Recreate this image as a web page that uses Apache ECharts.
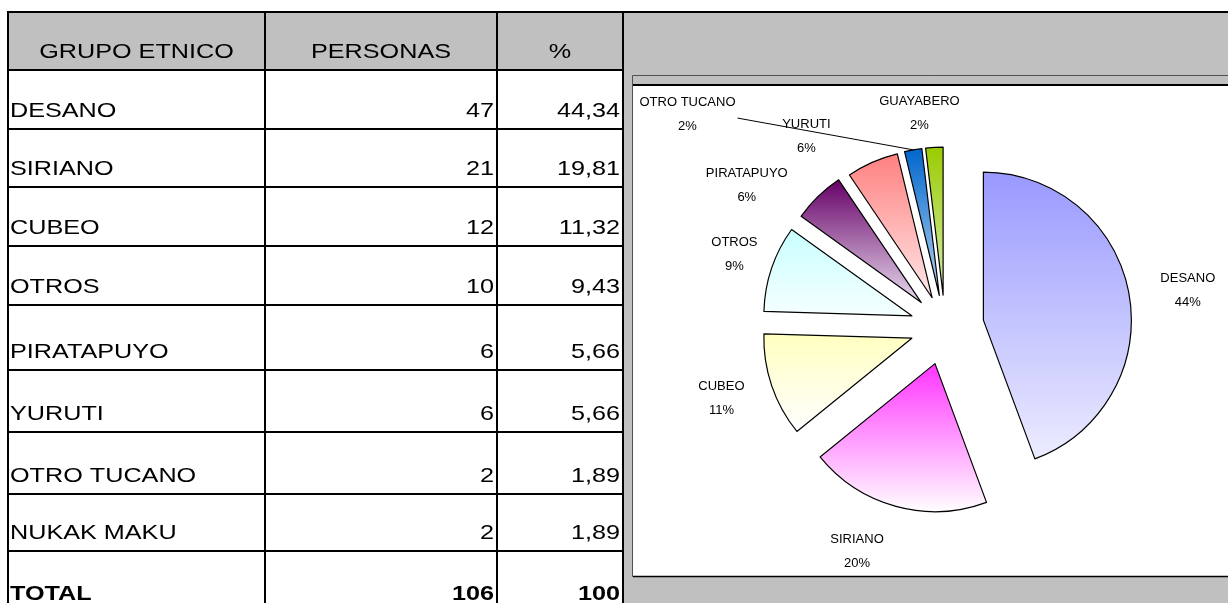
<!DOCTYPE html>
<html>
<head>
<meta charset="utf-8">
<script src="https://cdn.jsdelivr.net/npm/echarts@6/dist/echarts.min.js"></script>
<style>
  html, body { margin: 0; padding: 0; background: #fff; }
  #chart { width: 1228px; height: 603px; }
</style>
</head>
<body>
<div id="chart"></div>
<script>
// datos de la tabla
const headers = ['GRUPO ETNICO', 'PERSONAS', '%']
const groups = ['DESANO', 'SIRIANO', 'CUBEO', 'OTROS', 'PIRATAPUYO', 'YURUTI', 'OTRO TUCANO', 'NUKAK MAKU']
const personas = [47, 21, 12, 10, 6, 6, 2, 2]
const percents = ['44,34', '19,81', '11,32', '9,43', '5,66', '5,66', '1,89', '1,89']
const totalRow = ['TOTAL', '106', '100']

// datos de la torta
const pieNames = ['DESANO', 'SIRIANO', 'CUBEO', 'OTROS', 'PIRATAPUYO', 'YURUTI', 'OTRO TUCANO', 'GUAYABERO']
const pieValues = [47, 21, 12, 10, 6, 6, 2, 2]

// estilos
const FONT = '"Liberation Sans", Arial, sans-serif'
const colX = [8, 265, 497, 623]
const rowY = [12, 70, 129, 187, 246, 305, 370, 432, 494, 551, 612]
const sliceTop = ['#9999ff', '#ff33ff', '#ffffc0', '#c8ffff', '#660066', '#ff8080', '#0066cc', '#99cc00']
const sliceBottom = ['#ececff', '#ffffff', '#ffffff', '#f6ffff', '#e8dcef', '#ffe8e8', '#b8d4f0', '#d8ecb0']
const explode = [39, 38, 35, 35, 34, 32, 32, 32]
const labelShift = [[29, -1], [-20, 31], [-21, 8], [-8, -9], [-46, 0], [-45, -12], [-218, -21], [1, -19]]
const leaderIndex = 6 // solo OTRO TUCANO lleva linea guia

const chart = echarts.init(document.getElementById('chart'))

const elements = []
// fondo gris del panel del grafico
elements.push({ type: 'rect', z: 0, shape: { x: colX[3], y: rowY[0], width: 700, height: 700 }, style: { fill: '#c0c0c0' } })
// encabezado gris
elements.push({ type: 'rect', z: 0, shape: { x: colX[0], y: rowY[0], width: colX[3] - colX[0], height: rowY[1] - rowY[0] }, style: { fill: '#c0c0c0' } })
// marco del grafico
elements.push({ type: 'rect', z: 1, shape: { x: 632.5, y: 75.5, width: 700, height: 501 }, style: { fill: '#c0c0c0', stroke: '#505050', lineWidth: 1 } })
elements.push({ type: 'rect', z: 1, shape: { x: 633, y: 85, width: 700, height: 491 }, style: { fill: '#fff' } })
elements.push({ type: 'line', z: 2, shape: { x1: 633, y1: 85, x2: 1228, y2: 85 }, style: { stroke: '#000', lineWidth: 2 } })
elements.push({ type: 'line', z: 2, shape: { x1: 633, y1: 576.5, x2: 1228, y2: 576.5 }, style: { stroke: '#000', lineWidth: 1.5 } })

// lineas de la tabla
rowY.forEach((y, i) => {
  elements.push({
    type: 'line', z: 3,
    shape: { x1: colX[0] - 1, y1: y, x2: i === 0 ? 1228 : colX[3] + 1, y2: y },
    style: { stroke: '#000', lineWidth: 2 }
  })
})
colX.forEach(x => {
  elements.push({ type: 'line', z: 3, shape: { x1: x, y1: rowY[0], x2: x, y2: 603 }, style: { stroke: '#000', lineWidth: 2 } })
})

function cellText(text, col, row, bold) {
  const yMid = rowY[row + 1] - 18
  let x, align
  if (row === 0) {
    x = (colX[col] + colX[col + 1]) / 2
    align = 'center'
  } else if (col === 0) {
    x = colX[0] + 2
    align = 'left'
  } else {
    x = colX[col + 1] - 3
    align = 'right'
  }
  elements.push({
    type: 'text', z: 4, x, y: yMid, scaleX: 1.2,
    style: {
      text, fill: '#000', font: (bold ? 'bold ' : '') + '21px ' + FONT,
      align, verticalAlign: 'middle', textAlign: align, textVerticalAlign: 'middle'
    }
  })
}

headers.forEach((h, c) => cellText(h, c, 0))
groups.forEach((g, r) => {
  cellText(g, 0, r + 1)
  cellText(String(personas[r]), 1, r + 1)
  cellText(percents[r], 2, r + 1)
})
totalRow.forEach((t, c) => cellText(t, c, groups.length + 1, true))

// una serie por porcion para poder separar cada una distinto
const series = pieNames.map((name, i) => ({
  type: 'pie',
  center: [945, 327],
  radius: 148,
  startAngle: 90,
  clockwise: true,
  selectedMode: 'multiple',
  selectedOffset: explode[i],
  percentPrecision: 0,
  avoidLabelOverlap: false,
  silent: true,
  animation: false,
  z: 5,
  label: { show: false },
  labelLine: { show: false },
  emphasis: { disabled: true },
  labelLayout(params) {
    if (params.dataIndex !== i) return {}
    const s = labelShift[i]
    const out = { align: 'center', dx: s[0], dy: s[1] }
    const p = params.labelLinePoints
    if (i === leaderIndex && p) {
      // la etiqueta queda a 5px del final de la linea; se une la linea al borde derecho del texto
      const ax = p[2][0] - 5
      const ay = p[2][1]
      const end = [ax + s[0] + params.labelRect.width / 2 + 2, ay + s[1] + 4]
      out.labelLinePoints = [p[0], end, end]
    }
    return out
  },
  data: pieNames.map((n, j) => j === i
    ? {
        name: n, value: pieValues[j], selected: true,
        itemStyle: {
          color: new echarts.graphic.LinearGradient(0, 0, 0, 1, [
            { offset: 0, color: sliceTop[j] },
            { offset: 1, color: sliceBottom[j] }
          ]),
          borderColor: '#000', borderWidth: 1.2
        },
        label: {
          show: true, position: 'outside', formatter: '{b}\n{d}%',
          color: '#000', fontFamily: FONT, fontSize: 13, lineHeight: 24
        },
        labelLine: {
          show: j === leaderIndex, length: 15, length2: j === leaderIndex ? 0 : 10,
          lineStyle: { color: '#000', width: 1 }
        }
      }
    : { name: n, value: pieValues[j], itemStyle: { color: 'rgba(0,0,0,0)', borderWidth: 0 } })
}))

chart.setOption({
  animation: false,
  graphic: { elements },
  series
})
</script>
</body>
</html>
